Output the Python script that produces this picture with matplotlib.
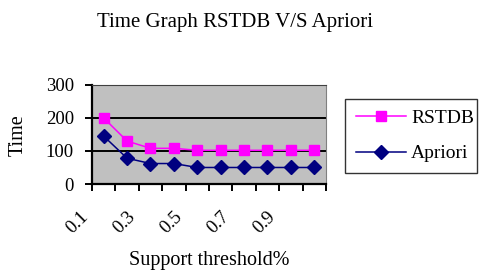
import matplotlib.pyplot as plt
import numpy as np

plt.rcParams['font.family'] = ['Liberation Serif', 'DejaVu Serif']

thresholds = ['0.1', '0.2', '0.3', '0.4', '0.5', '0.6', '0.7', '0.8', '0.9', '1.0']
rstdb = [200, 130, 108, 108, 102, 102, 102, 102, 102, 102]
apriori = [145, 78, 62, 62, 50, 50, 50, 50, 50, 50]

fig = plt.figure(figsize=(4.79, 2.73), dpi=100)
ax = fig.add_axes([0.192, 0.326, 0.4885, 0.363])
ax.set_facecolor('#c0c0c0')

x = np.arange(len(thresholds)) + 0.5
ax.plot(x, rstdb, color='#ff00ff', marker='s', markersize=7.2, lw=1.1, label='RSTDB', zorder=3)
ax.plot(x, apriori, color='#000080', marker='D', markersize=7, lw=1.1, label='Apriori', zorder=3)

ax.set_xlim(0, len(thresholds))
ax.set_ylim(0, 300)
ax.set_yticks([0, 100, 200, 300])
ax.tick_params(axis='y', labelsize=13.5, length=5, direction='out', width=1.4, pad=8)
for yv in [100, 200]:
    ax.axhline(yv, color='black', lw=1.4, zorder=1)

# category ticks sit between the points, labels on every other one
ax.set_xticks(np.arange(len(thresholds) + 1))
ax.set_xticklabels([])
ax.tick_params(axis='x', length=5, direction='out', width=1.4)
for i, lab in enumerate(thresholds):
    if i % 2 == 0:
        ax.text(i, -24 / 99, lab, rotation=45, ha='right', va='top',
                fontsize=13.5, transform=ax.get_xaxis_transform())

for s in ['left', 'bottom']:
    ax.spines[s].set_color('black')
    ax.spines[s].set_linewidth(1.6)
ax.spines['top'].set_color('#404040')
ax.spines['right'].set_color('#808080')

fig.text(18 / 479, 0.505, 'Time', rotation=90, ha='center', va='center', fontsize=14.5)
fig.text(209 / 479, 1 - 265 / 273, 'Support threshold%', ha='center', va='baseline', fontsize=14.5)
fig.text(235 / 479, 1 - 27 / 273, 'Time Graph RSTDB V/S Apriori', ha='center', va='baseline', fontsize=15)

leg = fig.legend(loc='upper left', bbox_to_anchor=(345 / 479, 1 - 99 / 273, 132 / 479, 0.0),
                 mode='expand', borderaxespad=0, fontsize=14, frameon=True, fancybox=False,
                 edgecolor='black', handlelength=2.6, labelspacing=0.9, borderpad=0.55,
                 handletextpad=0.25)
leg.get_frame().set_linewidth(1.0)

fig.savefig('out.png', dpi=100)
